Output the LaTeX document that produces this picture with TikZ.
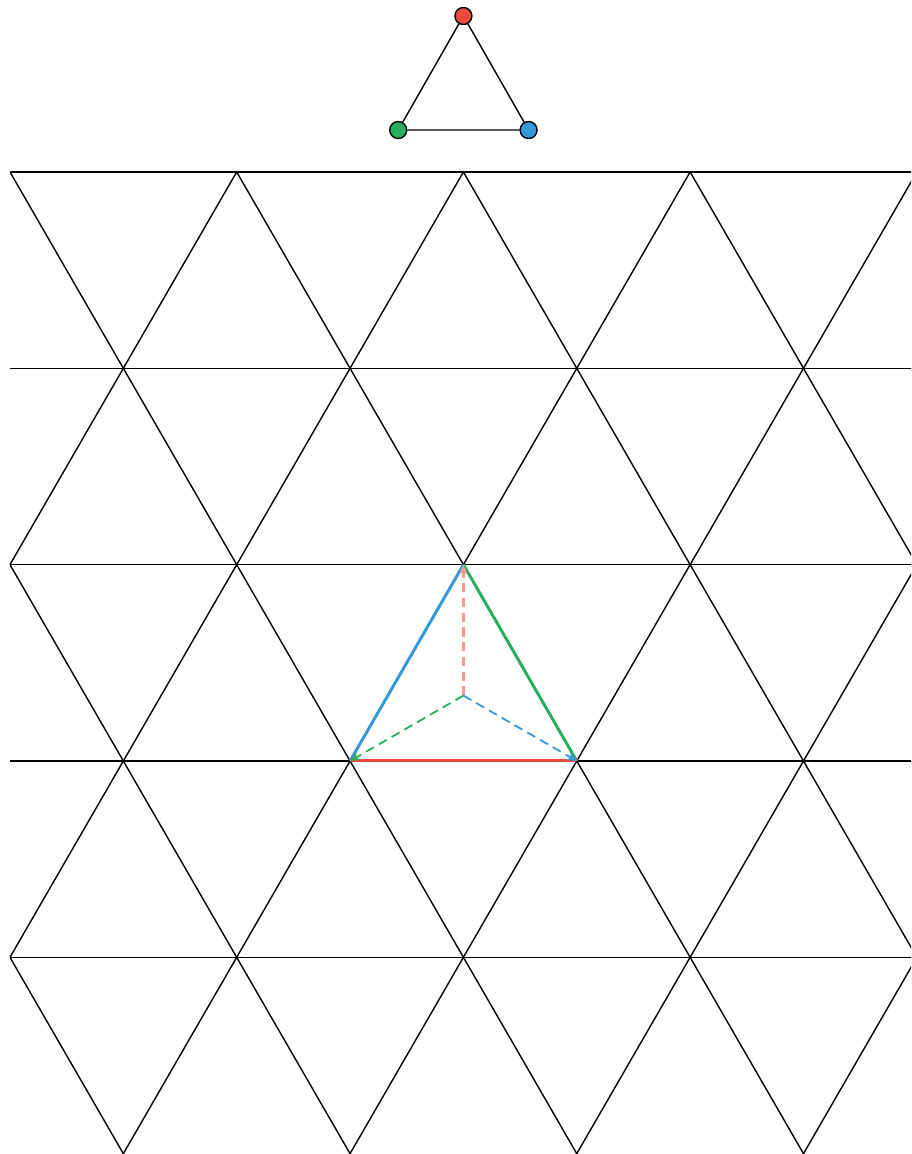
\documentclass[tikz,border=0pt]{standalone}
\usetikzlibrary{arrows.meta}
\definecolor{cred}{HTML}{E74C3C}
\definecolor{cpink}{HTML}{F29A90}
\definecolor{cgreen}{HTML}{27AE60}
\definecolor{cblue}{HTML}{3498DB}

\begin{document}
\begin{tikzpicture}[
  grid/.style={black, line width=0.35pt},
  edge/.style={line width=0.75pt},
  flow/.style={dash pattern=on 2.3pt off 1.4pt, line width=0.45pt, -{Stealth[length=2.5pt,width=2.2pt]}},
  dot/.style={circle, draw, line width=0.35pt, inner sep=0pt, minimum size=0.15cm}
]
\useasboundingbox (-0.088,-8.663) rectangle (7.949,1.517);

% triangular lattice
\begin{scope}
\clip (0,-8.67) rectangle (7.949,0.02);
\foreach \j in {0,...,4} {
  \draw[grid] (0,-\j*1.732) -- (8.5,-\j*1.732);
  \pgfmathtruncatemacro{\o}{mod(\j,2)}
  \foreach \i in {-1,...,4} {
    \draw[grid] ({2*\i+\o-1},{-(\j+1)*1.732}) -- ({2*\i+\o},{-\j*1.732}) -- ({2*\i+\o+1},{-(\j+1)*1.732});
  }
}
\end{scope}

% small triangle on top
\node[dot, fill=cred] (r) at (4,1.376) {};
\node[dot, fill=cgreen] (g) at (3.425,0.37) {};
\node[dot, fill=cblue] (b) at (4.575,0.37) {};
\draw[grid] (r) -- (g) -- (b) -- (r);

% highlighted face
\coordinate (t) at (4,-3.464);
\coordinate (bl) at (3,-5.196);
\coordinate (br) at (5,-5.196);
\coordinate (c) at (4,-4.619);
\draw[edge, cblue] (bl) -- (t);
\draw[edge, cgreen] (t) -- (br);
\draw[edge, cred] (bl) -- (br);
\draw[flow, cpink, line width=0.6pt] (c) -- (t);
\draw[flow, cgreen] (c) -- (bl);
\draw[flow, cblue] (c) -- (br);
\end{tikzpicture}
\end{document}
